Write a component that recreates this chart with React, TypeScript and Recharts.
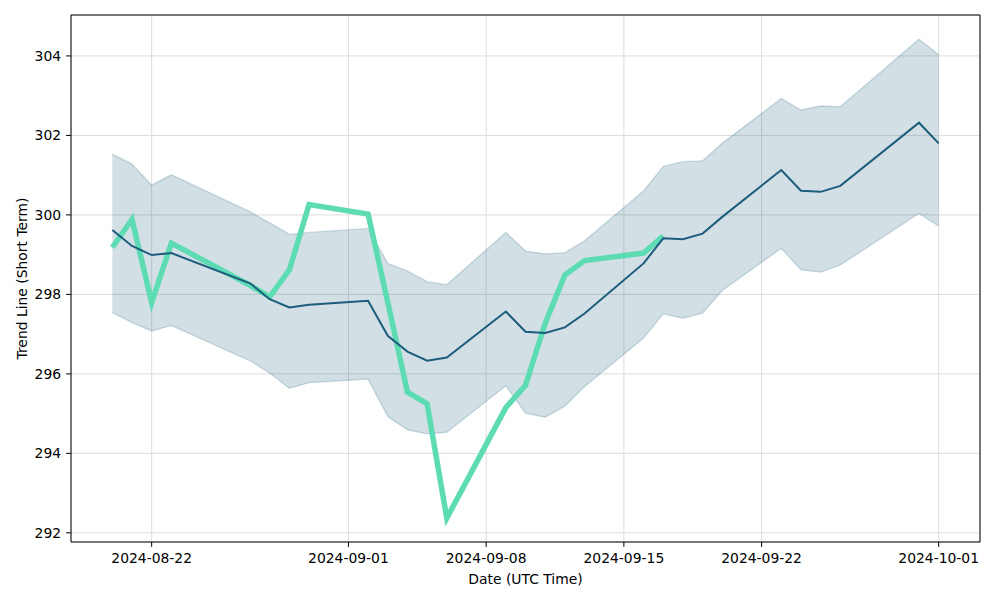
import React from 'react';
import { ComposedChart, Area, Line, XAxis, YAxis, CartesianGrid, ReferenceArea } from 'recharts';

const dates = [
  '2024-08-20', '2024-08-21', '2024-08-22', '2024-08-23', '2024-08-27', '2024-08-28', '2024-08-29', '2024-08-30',
  '2024-09-02', '2024-09-03', '2024-09-04', '2024-09-05', '2024-09-06', '2024-09-09', '2024-09-10', '2024-09-11',
  '2024-09-12', '2024-09-13', '2024-09-16', '2024-09-17', '2024-09-18', '2024-09-19', '2024-09-20', '2024-09-23',
  '2024-09-24', '2024-09-25', '2024-09-26', '2024-09-30', '2024-10-01',
];

const trend = [
  299.62, 299.22, 298.99, 299.04, 298.28, 297.88, 297.67, 297.74,
  297.84, 296.96, 296.56, 296.33, 296.41, 297.57, 297.06, 297.03,
  297.17, 297.52, 298.78, 299.41, 299.39, 299.53, 299.95, 301.13,
  300.61, 300.58, 300.73, 302.32, 301.8,
];

const upper = [
  301.53, 301.28, 300.75, 301.01, 300.08, 299.8, 299.51, 299.56,
  299.66, 298.78, 298.59, 298.32, 298.24, 299.56, 299.09, 299.02,
  299.05, 299.35, 300.6, 301.22, 301.34, 301.36, 301.8, 302.93,
  302.64, 302.74, 302.72, 304.42, 304.03,
];

const lower = [
  297.54, 297.29, 297.08, 297.22, 296.33, 296.02, 295.64, 295.78,
  295.87, 294.93, 294.59, 294.49, 294.53, 295.7, 295.01, 294.91,
  295.19, 295.68, 296.9, 297.51, 297.4, 297.53, 298.1, 299.16,
  298.62, 298.56, 298.74, 300.04, 299.72,
];

// actual price, only known up to 2024-09-17
const price: (number | null)[] = [
  299.18, 299.89, 297.79, 299.29, 298.23, 297.94, 298.62, 300.26,
  300.02, 297.8, 295.54, 295.25, 292.37, 295.15, 295.71, 297.27,
  298.49, 298.85, 299.04, 299.47, null, null, null, null,
  null, null, null, null, null,
];

const xTickDates = ['2024-08-22', '2024-09-01', '2024-09-08', '2024-09-15', '2024-09-22', '2024-10-01'];
const yTicks = [292, 294, 296, 298, 300, 302, 304];

const DAY = 86400000;
const ts = (s: string) => Date.parse(s + 'T00:00:00Z');

const data = dates.map((d, i) => ({
  t: ts(d),
  trend: trend[i],
  band: [lower[i], upper[i]],
  price: price[i],
}));

const xMin = ts(dates[0]) - 2.1 * DAY;
const xMax = ts(dates[dates.length - 1]) + 2.1 * DAY;
const yMin = 291.77;
const yMax = 305.03;

const fmtDate = (v: number) => new Date(v).toISOString().slice(0, 10);

const font = 'DejaVu Sans';
const tickStyle = { fontSize: 13.9, fill: '#000', fontFamily: font };

export default function App() {
  return (
    <div style={{ position: 'absolute', left: 0, top: 0, width: 1000, height: 600, background: '#fff' }}>
      <ComposedChart width={1000} height={600} data={data} margin={{ top: 15, right: 20, left: 0, bottom: 0 }}>
        <CartesianGrid stroke="#dcdcdc" strokeWidth={1} />
        <XAxis
          dataKey="t"
          type="number"
          domain={[xMin, xMax]}
          allowDataOverflow
          ticks={xTickDates.map(ts)}
          tickFormatter={fmtDate}
          tick={tickStyle}
          tickSize={4.9}
          tickMargin={6}
          tickLine={{ stroke: '#000' }}
          axisLine={false}
          height={58}
          label={{ value: 'Date (UTC Time)', position: 'insideBottom', offset: 16, style: { fontSize: 13.9, fill: '#000', fontFamily: font } }}
        />
        <YAxis
          type="number"
          domain={[yMin, yMax]}
          allowDataOverflow
          ticks={yTicks}
          tick={tickStyle}
          tickSize={4.9}
          tickMargin={5}
          tickLine={{ stroke: '#000' }}
          axisLine={false}
          width={71}
          label={{ value: 'Trend Line (Short Term)', angle: -90, position: 'insideLeft', offset: 22, style: { textAnchor: 'middle', fontSize: 13.9, fill: '#000', fontFamily: font } }}
        />
        <Area
          dataKey="band"
          type="linear"
          fill="#1f5f7f"
          fillOpacity={0.2}
          stroke="#1f5f7f"
          strokeOpacity={0.2}
          strokeWidth={1.4}
          isAnimationActive={false}
          dot={false}
          activeDot={false}
        />
        <Line
          dataKey="price"
          type="linear"
          stroke="#5ddcb4"
          strokeWidth={5.5}
          dot={false}
          activeDot={false}
          isAnimationActive={false}
        />
        <Line
          dataKey="trend"
          type="linear"
          stroke="#1c5c7c"
          strokeWidth={2}
          dot={false}
          activeDot={false}
          isAnimationActive={false}
        />
        <ReferenceArea x1={xMin} x2={xMax} y1={yMin} y2={yMax} fill="none" stroke="#000" strokeWidth={1} fillOpacity={0} ifOverflow="visible" />
      </ComposedChart>
    </div>
  );
}
